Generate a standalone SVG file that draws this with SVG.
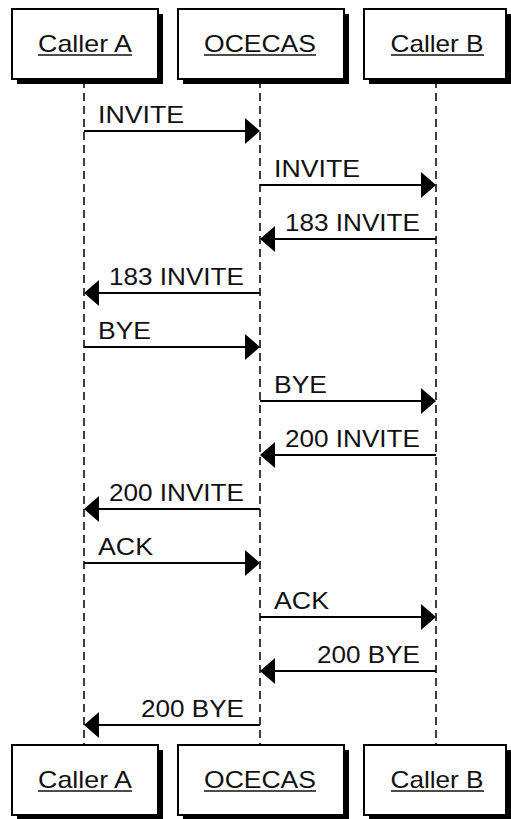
<svg xmlns="http://www.w3.org/2000/svg" width="511" height="819" viewBox="0 0 511 819">
<style>
.box{fill:#fff;stroke:#000;stroke-width:2}
.shadow{fill:#000}
.lbl{font-family:"Liberation Sans",Arial,sans-serif;font-size:24px;fill:#111}
.ul{stroke:#111;stroke-width:1.6}
.life{stroke:#000;stroke-width:1.5;stroke-dasharray:8,5;fill:none}
.msg{stroke:#000;stroke-width:1.8;fill:none}
.head{fill:#000}
</style>
<rect width="511" height="819" fill="#fff"/>
<g id="lifelines">
<line class="life" x1="84" y1="80" x2="84" y2="745"/>
<line class="life" x1="260" y1="80" x2="260" y2="745"/>
<line class="life" x1="436" y1="80" x2="436" y2="745"/>
</g>
<g id="node-callerA-top">
<rect class="shadow" x="17" y="14" width="146" height="70"/>
<rect class="box" x="12" y="9" width="146" height="70"/>
<text class="lbl" x="85" y="52" text-anchor="middle" textLength="94" lengthAdjust="spacingAndGlyphs">Caller A</text>
<line class="ul" x1="38" y1="55" x2="132" y2="55"/>
</g>
<g id="node-ocecas-top">
<rect class="shadow" x="183" y="14" width="166" height="70"/>
<rect class="box" x="178" y="9" width="166" height="70"/>
<text class="lbl" x="260" y="52" text-anchor="middle" textLength="112" lengthAdjust="spacingAndGlyphs">OCECAS</text>
<line class="ul" x1="204" y1="55" x2="316" y2="55"/>
</g>
<g id="node-callerB-top">
<rect class="shadow" x="369" y="14" width="142" height="70"/>
<rect class="box" x="364" y="9" width="142" height="70"/>
<text class="lbl" x="437" y="52" text-anchor="middle" textLength="93" lengthAdjust="spacingAndGlyphs">Caller B</text>
<line class="ul" x1="391" y1="55" x2="484" y2="55"/>
</g>
<g id="node-callerA-bottom">
<rect class="shadow" x="17" y="750" width="146" height="70"/>
<rect class="box" x="12" y="745" width="146" height="70"/>
<text class="lbl" x="85" y="788" text-anchor="middle" textLength="94" lengthAdjust="spacingAndGlyphs">Caller A</text>
<line class="ul" x1="38" y1="791" x2="132" y2="791"/>
</g>
<g id="node-ocecas-bottom">
<rect class="shadow" x="183" y="750" width="166" height="70"/>
<rect class="box" x="178" y="745" width="166" height="70"/>
<text class="lbl" x="260" y="788" text-anchor="middle" textLength="112" lengthAdjust="spacingAndGlyphs">OCECAS</text>
<line class="ul" x1="204" y1="791" x2="316" y2="791"/>
</g>
<g id="node-callerB-bottom">
<rect class="shadow" x="369" y="750" width="142" height="70"/>
<rect class="box" x="364" y="745" width="142" height="70"/>
<text class="lbl" x="437" y="788" text-anchor="middle" textLength="93" lengthAdjust="spacingAndGlyphs">Caller B</text>
<line class="ul" x1="391" y1="791" x2="484" y2="791"/>
</g>
<g id="connectors">
<line class="msg" x1="84" y1="131" x2="248" y2="131"/><polygon class="head" points="260,131 245,118 245,144"/>
<text class="lbl" x="98" y="123" textLength="86" lengthAdjust="spacingAndGlyphs">INVITE</text>
<line class="msg" x1="260" y1="185" x2="424" y2="185"/><polygon class="head" points="436,185 421,172 421,198"/>
<text class="lbl" x="274" y="177" textLength="86" lengthAdjust="spacingAndGlyphs">INVITE</text>
<line class="msg" x1="436" y1="239" x2="272" y2="239"/><polygon class="head" points="260,239 275,226 275,252"/>
<text class="lbl" x="420" y="231" text-anchor="end" textLength="135" lengthAdjust="spacingAndGlyphs">183 INVITE</text>
<line class="msg" x1="260" y1="293" x2="96" y2="293"/><polygon class="head" points="84,293 99,280 99,306"/>
<text class="lbl" x="244" y="285" text-anchor="end" textLength="135" lengthAdjust="spacingAndGlyphs">183 INVITE</text>
<line class="msg" x1="84" y1="347" x2="248" y2="347"/><polygon class="head" points="260,347 245,334 245,360"/>
<text class="lbl" x="98" y="339" textLength="53" lengthAdjust="spacingAndGlyphs">BYE</text>
<line class="msg" x1="260" y1="401" x2="424" y2="401"/><polygon class="head" points="436,401 421,388 421,414"/>
<text class="lbl" x="274" y="393" textLength="53" lengthAdjust="spacingAndGlyphs">BYE</text>
<line class="msg" x1="436" y1="455" x2="272" y2="455"/><polygon class="head" points="260,455 275,442 275,468"/>
<text class="lbl" x="420" y="447" text-anchor="end" textLength="135" lengthAdjust="spacingAndGlyphs">200 INVITE</text>
<line class="msg" x1="260" y1="509" x2="96" y2="509"/><polygon class="head" points="84,509 99,496 99,522"/>
<text class="lbl" x="244" y="501" text-anchor="end" textLength="135" lengthAdjust="spacingAndGlyphs">200 INVITE</text>
<line class="msg" x1="84" y1="563" x2="248" y2="563"/><polygon class="head" points="260,563 245,550 245,576"/>
<text class="lbl" x="98" y="555" textLength="55" lengthAdjust="spacingAndGlyphs">ACK</text>
<line class="msg" x1="260" y1="617" x2="424" y2="617"/><polygon class="head" points="436,617 421,604 421,630"/>
<text class="lbl" x="274" y="609" textLength="55" lengthAdjust="spacingAndGlyphs">ACK</text>
<line class="msg" x1="436" y1="671" x2="272" y2="671"/><polygon class="head" points="260,671 275,658 275,684"/>
<text class="lbl" x="420" y="663" text-anchor="end" textLength="103" lengthAdjust="spacingAndGlyphs">200 BYE</text>
<line class="msg" x1="260" y1="725" x2="96" y2="725"/><polygon class="head" points="84,725 99,712 99,738"/>
<text class="lbl" x="244" y="717" text-anchor="end" textLength="103" lengthAdjust="spacingAndGlyphs">200 BYE</text>
</g>
</svg>
